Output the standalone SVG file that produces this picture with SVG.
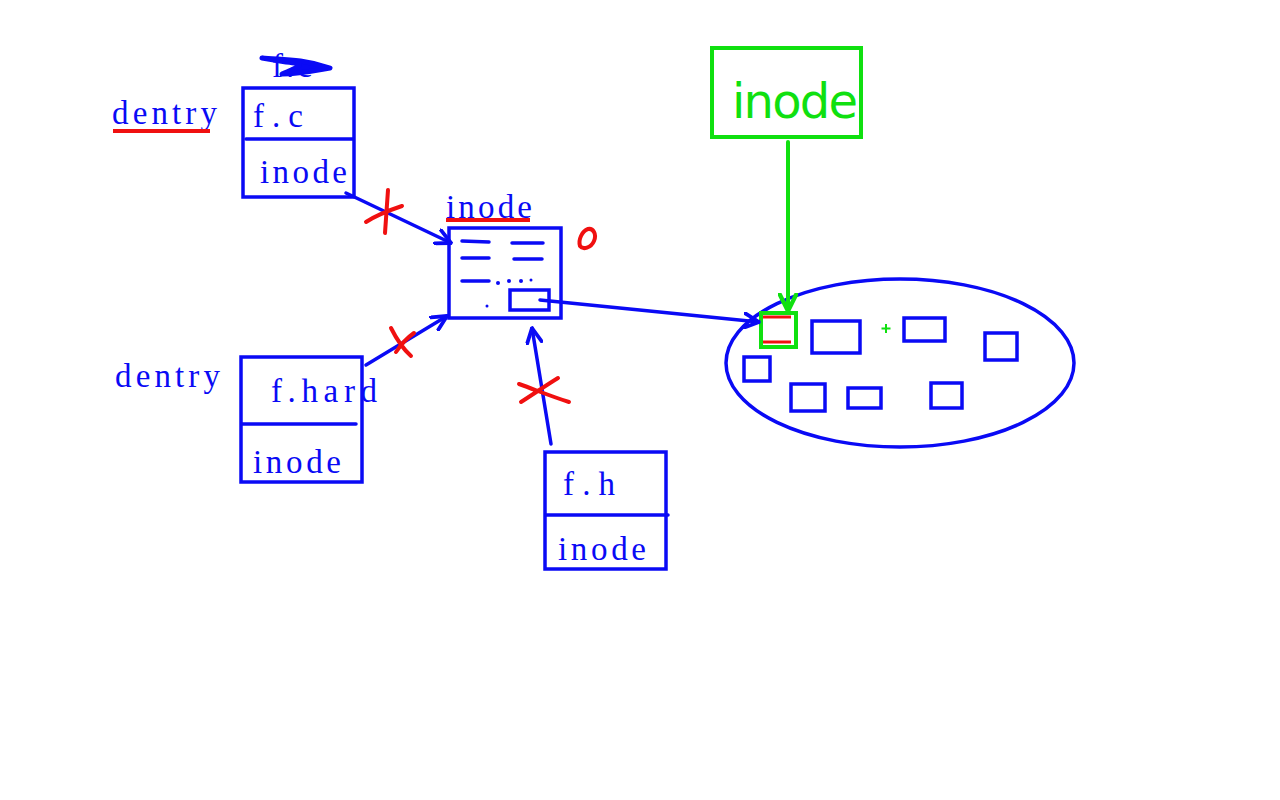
<svg xmlns="http://www.w3.org/2000/svg" width="1280" height="800" viewBox="0 0 1280 800">
  <style>
    .box { fill: none; stroke: #0A0AF5; stroke-width: 3.5; }
    .ln { fill: none; stroke: #0A0AF5; stroke-width: 3.5; stroke-linecap: round; }
    .t { font-family: "Liberation Serif", "DejaVu Serif", serif; font-size: 33px; fill: #0A0AF5; }
    .red { fill: none; stroke: #F01010; stroke-width: 4; stroke-linecap: round; }
    .grn { fill: none; stroke: #10E010; stroke-width: 4; stroke-linecap: round; }
  </style>
  <defs>
    <marker id="ah" viewBox="0 0 12 12" refX="11" refY="6" markerWidth="5" markerHeight="5" orient="auto" markerUnits="strokeWidth">
      <path d="M1,1 L11,6 L1,11" fill="none" stroke="#0A0AF5" stroke-width="2.6" stroke-linecap="round" stroke-linejoin="round"/>
    </marker>
    <marker id="ahg" viewBox="0 0 12 12" refX="11" refY="6" markerWidth="5" markerHeight="5" orient="auto" markerUnits="strokeWidth">
      <path d="M1,1 L11,6 L1,11" fill="none" stroke="#10E010" stroke-width="2.6" stroke-linecap="round" stroke-linejoin="round"/>
    </marker>
  </defs>
  <rect width="1280" height="800" fill="#FFFFFF"/>

  <!-- dentry for f.c -->
  <g id="dentry-fc">
    <text class="t" x="112" y="124" textLength="105" lengthAdjust="spacing">dentry</text>
    <line x1="113" y1="131" x2="210" y2="131" stroke="#F01010" stroke-width="4"/>
    <!-- crossed-out name -->
    <text class="t" x="272" y="77" font-size="26" textLength="40" lengthAdjust="spacing">f.c</text>
    <path d="M262,58 C280,60 300,58 330,68 C318,70 300,74 282,74 C296,68 310,64 286,62 Z" fill="#0A0AF5" stroke="#0A0AF5" stroke-width="5" stroke-linejoin="round"/>
    <rect class="box" x="243" y="88" width="111" height="109"/>
    <line class="ln" x1="246" y1="139" x2="353" y2="139"/>
    <text class="t" x="253" y="127" textLength="50" lengthAdjust="spacing">f.c</text>
    <text class="t" x="260" y="183" textLength="87" lengthAdjust="spacing">inode</text>
  </g>

  <!-- dentry for f.hard -->
  <g id="dentry-fhard">
    <text class="t" x="115" y="387" textLength="105" lengthAdjust="spacing">dentry</text>
    <rect class="box" x="241" y="357" width="121" height="125"/>
    <line class="ln" x1="242" y1="424" x2="356" y2="424"/>
    <text class="t" x="271" y="402" textLength="106" lengthAdjust="spacing">f.hard</text>
    <text class="t" x="253" y="473" textLength="88" lengthAdjust="spacing">inode</text>
  </g>

  <!-- dentry for f.h -->
  <g id="dentry-fh">
    <rect class="box" x="545" y="452" width="121" height="117"/>
    <line class="ln" x1="546" y1="515" x2="668" y2="515"/>
    <text class="t" x="563" y="495" textLength="52" lengthAdjust="spacing">f.h</text>
    <text class="t" x="558" y="560" textLength="88" lengthAdjust="spacing">inode</text>
  </g>

  <!-- in-memory inode -->
  <g id="inode">
    <text class="t" x="446" y="218" textLength="86" lengthAdjust="spacing">inode</text>
    <line x1="446" y1="220" x2="530" y2="220" stroke="#F01010" stroke-width="4"/>
    <rect class="box" x="449" y="228" width="112" height="90"/>
    <g class="ln">
      <line x1="462" y1="241" x2="489" y2="242"/>
      <line x1="512" y1="243" x2="543" y2="243"/>
      <line x1="462" y1="258" x2="489" y2="258"/>
      <line x1="514" y1="259" x2="542" y2="259"/>
      <line x1="462" y1="281" x2="489" y2="281"/>
    </g>
    <g fill="#0A0AF5">
      <circle cx="498" cy="283" r="2"/>
      <circle cx="509" cy="281" r="2"/>
      <circle cx="521" cy="281" r="2"/>
      <circle cx="531" cy="280" r="1.5"/>
      <circle cx="487" cy="306" r="1.5"/>
    </g>
    <rect class="box" x="510" y="290" width="39" height="20"/>
    <path class="red" d="M588,229 C582,231 578,240 580,246 C583,250 591,248 594,241 C597,234 593,228 588,229"/>
  </g>

  <!-- on-disk inode -->
  <g id="disk-inode">
    <rect class="grn" x="712" y="48" width="149" height="89"/>
    <text x="732" y="118" font-family="'DejaVu Sans', sans-serif" font-size="48" fill="#10E010" textLength="126" lengthAdjust="spacing">inode</text>
  </g>

  <!-- inode table -->
  <g id="inode-table">
    <ellipse class="box" cx="900" cy="363" rx="174" ry="84"/>
    <rect x="761" y="313" width="35" height="34" fill="none" stroke="#10E010" stroke-width="4"/>
    <line x1="763" y1="317" x2="791" y2="317" stroke="#F01010" stroke-width="3"/>
    <line x1="763" y1="342" x2="791" y2="342" stroke="#F01010" stroke-width="3"/>
    <rect class="box" x="812" y="321" width="48" height="32"/>
    <rect class="box" x="904" y="318" width="41" height="23"/>
    <rect class="box" x="985" y="333" width="32" height="27"/>
    <rect class="box" x="744" y="357" width="26" height="24"/>
    <rect class="box" x="791" y="384" width="34" height="27"/>
    <rect class="box" x="848" y="388" width="33" height="20"/>
    <rect class="box" x="931" y="383" width="31" height="25"/>
    <path d="M886,324 V333 M881.5,328.5 H890.5" stroke="#10E010" stroke-width="2"/>
  </g>

  <!-- connectors -->
  <g id="connectors">
    <line class="ln" x1="346" y1="193" x2="451" y2="243" marker-end="url(#ah)"/>
    <line class="ln" x1="366" y1="365" x2="447" y2="316" marker-end="url(#ah)"/>
    <line class="ln" x1="551" y1="444" x2="532" y2="328" marker-end="url(#ah)"/>
    <line class="ln" x1="540" y1="300" x2="759" y2="322" marker-end="url(#ah)"/>
    <line class="grn" x1="788" y1="142" x2="788" y2="311" marker-end="url(#ahg)"/>
    <!-- broken links -->
    <path class="red" d="M388,190 L385,233 M366,222 C375,216 390,210 402,206"/>
    <path class="red" d="M391,328 C396,338 402,348 411,356 M396,352 C400,346 404,340 414,333"/>
    <path class="red" d="M519,384 C536,390 550,396 569,402 M521,402 C532,395 545,386 558,378"/>
  </g>
</svg>
